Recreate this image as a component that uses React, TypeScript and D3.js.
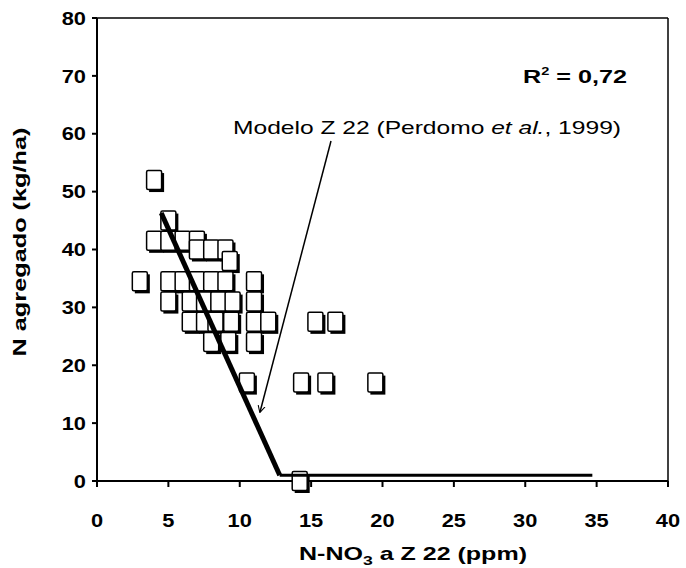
import React from "react";
import * as d3 from "d3";

const xTicks = [0, 5, 10, 15, 20, 25, 30, 35, 40];
const yTicks = [0, 10, 20, 30, 40, 50, 60, 70, 80];

const obsX = [4, 5, 4, 5, 6, 7, 7, 8, 9, 9.3, 3, 5, 6, 7, 8, 9, 11, 5, 6.5, 7.5, 8.5, 9.5, 11, 6.5, 7.5, 8.3, 9.4, 11, 12, 8, 9.2, 11, 10.5, 14.3, 16, 19.5, 15.3, 16.7, 14.2];
const obsY = [52, 45, 41.5, 41.5, 41.5, 41.5, 40, 40, 40, 38, 34.5, 34.5, 34.5, 34.5, 34.5, 34.5, 34.5, 31, 31, 31, 31, 31, 31, 27.5, 27.5, 27.5, 27.5, 27.5, 27.5, 24, 24, 24, 17, 17, 17, 17, 27.5, 27.5, 0];

const modelX = [4.5, 12.8, 34.7];
const modelY = [46.3, 1, 1];

const W = 686, H = 568;
const L = 97, R = 668, T = 18, B = 481;

export default function App() {
  const x = d3.scaleLinear().domain([0, 40]).range([L, R]);
  const y = d3.scaleLinear().domain([0, 80]).range([B, T]);
  const font = "'Liberation Sans', Arial, sans-serif";
  const mw = 15, mh = 19;
  const k = 1.18;
  return (
    <svg width={W} height={H} style={{ position: "absolute", left: 0, top: 0, background: "#fff" }} fontFamily={font}>
      <rect x={0} y={0} width={W} height={H} fill="#fff" />
      {/* frame */}
      <line x1={L} y1={T} x2={R} y2={T} stroke="#000" strokeWidth={1.5} />
      <line x1={R} y1={T} x2={R} y2={B} stroke="#000" strokeWidth={1.5} />
      {/* axes */}
      <line x1={L} y1={T} x2={L} y2={B} stroke="#000" strokeWidth={2} />
      <line x1={L} y1={B} x2={R} y2={B} stroke="#000" strokeWidth={2} />
      {yTicks.map((t) => (
        <g key={"y" + t}>
          <line x1={L - 5} x2={L} y1={y(t)} y2={y(t)} stroke="#000" strokeWidth={2} />
          <text transform={`translate(${L - 11},${y(t)}) scale(${k},1)`} dy="0.36em" textAnchor="end" fontSize={18.5} fontWeight="bold">{t}</text>
        </g>
      ))}
      {xTicks.map((t) => (
        <g key={"x" + t}>
          <line x1={x(t)} x2={x(t)} y1={B} y2={B + 6} stroke="#000" strokeWidth={2} />
          <text transform={`translate(${x(t)},${B + 46}) scale(${k},1)`} textAnchor="middle" fontSize={18.5} fontWeight="bold">{t}</text>
        </g>
      ))}
      {/* axis titles */}
      <text x={299} y={560} fontSize={18.5} fontWeight="bold" textLength={228} lengthAdjust="spacingAndGlyphs">
        N-NO<tspan dy={5} fontSize={13}>3</tspan><tspan dy={-5}> a Z 22 (ppm)</tspan>
      </text>
      <text transform="translate(26,242) rotate(-90)" textAnchor="middle" fontSize={18} fontWeight="bold" textLength={229} lengthAdjust="spacingAndGlyphs">N agregado (kg/ha)</text>
      {/* points */}
      {obsX.map((v, i) => (
        <g key={"p" + i}>
          <rect x={x(v) - mw / 2 + 2.5} y={y(obsY[i]) - mh / 2 + 2.5} width={mw} height={mh} fill="#000" />
          <rect x={x(v) - mw / 2} y={y(obsY[i]) - mh / 2} width={mw} height={mh} fill="#fff" stroke="#000" strokeWidth={1.5} rx={1.5} />
        </g>
      ))}
      {/* model line */}
      <line x1={x(modelX[0])} y1={y(modelY[0])} x2={x(modelX[1])} y2={y(modelY[1])} stroke="#000" strokeWidth={5} />
      <line x1={x(modelX[1])} y1={y(modelY[1])} x2={x(modelX[2])} y2={y(modelY[2])} stroke="#000" strokeWidth={3} />
      {/* annotation */}
      <text x={523} y={83} fontSize={19} fontWeight="bold" textLength={104} lengthAdjust="spacingAndGlyphs">R<tspan dy={-8} fontSize={11}>2</tspan><tspan dy={8}> = 0,72</tspan></text>
      <text x={233} y={134} fontSize={19} textLength={388} lengthAdjust="spacingAndGlyphs">Modelo  Z 22 (Perdomo <tspan fontStyle="italic">et al.</tspan>, 1999)</text>
      <defs>
        <marker id="arr" viewBox="0 0 10 10" refX={9} refY={5} markerWidth={7} markerHeight={9} orient="auto" markerUnits="userSpaceOnUse">
          <path d="M0,0 L10,5 L0,10" fill="none" stroke="#000" strokeWidth={1.5} />
        </marker>
      </defs>
      <line x1={331} y1={141} x2={260} y2={412} stroke="#000" strokeWidth={1.5} markerEnd="url(#arr)" />
    </svg>
  );
}
